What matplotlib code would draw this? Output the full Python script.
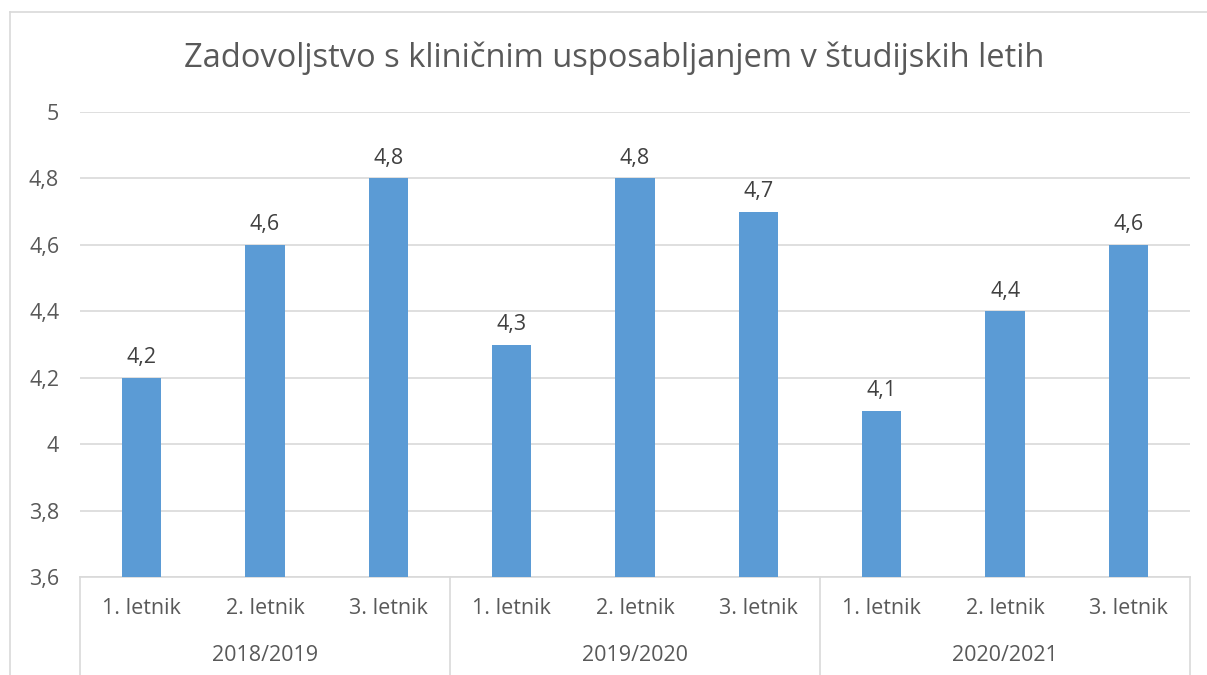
import matplotlib
matplotlib.use("Agg")
import matplotlib.pyplot as plt
from matplotlib.lines import Line2D
from matplotlib.ticker import FuncFormatter

plt.rcParams['font.family'] = ['Open Sans', 'DejaVu Sans']

# ── Data ─────────────────────────────────────────────────────
years   = ["2018/2019", "2019/2020", "2020/2021"]
letniki = ["1. letnik", "2. letnik", "3. letnik"]
values  = [4.2, 4.6, 4.8,
           4.3, 4.8, 4.7,
           4.1, 4.4, 4.6]

BAR   = "#5B9BD5"
GRID  = "#D9D9D9"
TXT   = "#595959"
FS    = 15.5

fig = plt.figure(figsize=(12.07, 6.75), dpi=100, facecolor="white")
ax = fig.add_axes([0.0663, 0.145, 0.9197, 0.689])

# outer chart frame (left + top edge visible)
fig.add_artist(Line2D([0.0083, 0.0083], [0.0, 0.982], color=GRID, lw=1.2,
                      transform=fig.transFigure))
fig.add_artist(Line2D([0.0083, 1.0], [0.982, 0.982], color=GRID, lw=1.2,
                      transform=fig.transFigure))

n = len(values)
xs = list(range(n))
bars = ax.bar(xs, values, width=0.32, color=BAR, zorder=3)

ax.set_xlim(-0.5, n - 0.5)
ax.set_ylim(3.6, 5.0)
ax.set_yticks([3.6, 3.8, 4.0, 4.2, 4.4, 4.6, 4.8, 5.0])
ax.yaxis.set_major_formatter(FuncFormatter(
    lambda v, p: f"{v:g}".replace(".", ",")))
ax.yaxis.grid(True, color=GRID, lw=1.2, zorder=0)
ax.tick_params(axis="y", length=0, pad=15, labelsize=FS, labelcolor=TXT)
ax.set_xticks([])
for s in ["top", "right", "left"]:
    ax.spines[s].set_visible(False)
ax.spines["bottom"].set_color(GRID)
ax.spines["bottom"].set_linewidth(1.2)

# data labels
for b, v in zip(bars, values):
    ax.annotate(f"{v:g}".replace(".", ","),
                (b.get_x() + b.get_width() / 2, v),
                xytext=(0, 7), textcoords="offset points",
                ha="center", va="bottom", fontsize=FS, color="#404040")

# multi-level category axis
tr = ax.get_xaxis_transform()
for i, x in enumerate(xs):
    ax.text(x, -0.067, letniki[i % 3], transform=tr, ha="center",
            va="center", fontsize=FS, color=TXT)
for g, yr in enumerate(years):
    ax.text(g * 3 + 1, -0.168, yr, transform=tr, ha="center",
            va="center", fontsize=FS, color=TXT)
for g in range(len(years) + 1):
    ax.add_line(Line2D([g * 3 - 0.5, g * 3 - 0.5], [0, -0.22],
                       transform=tr, color=GRID, lw=1.2, clip_on=False))

fig.text(0.5087, 0.913, "Zadovoljstvo s kliničnim usposabljanjem v študijskih letih",
         ha="center", va="center", fontsize=23.5, color=TXT)

fig.savefig("out.png", dpi=100, facecolor="white")
